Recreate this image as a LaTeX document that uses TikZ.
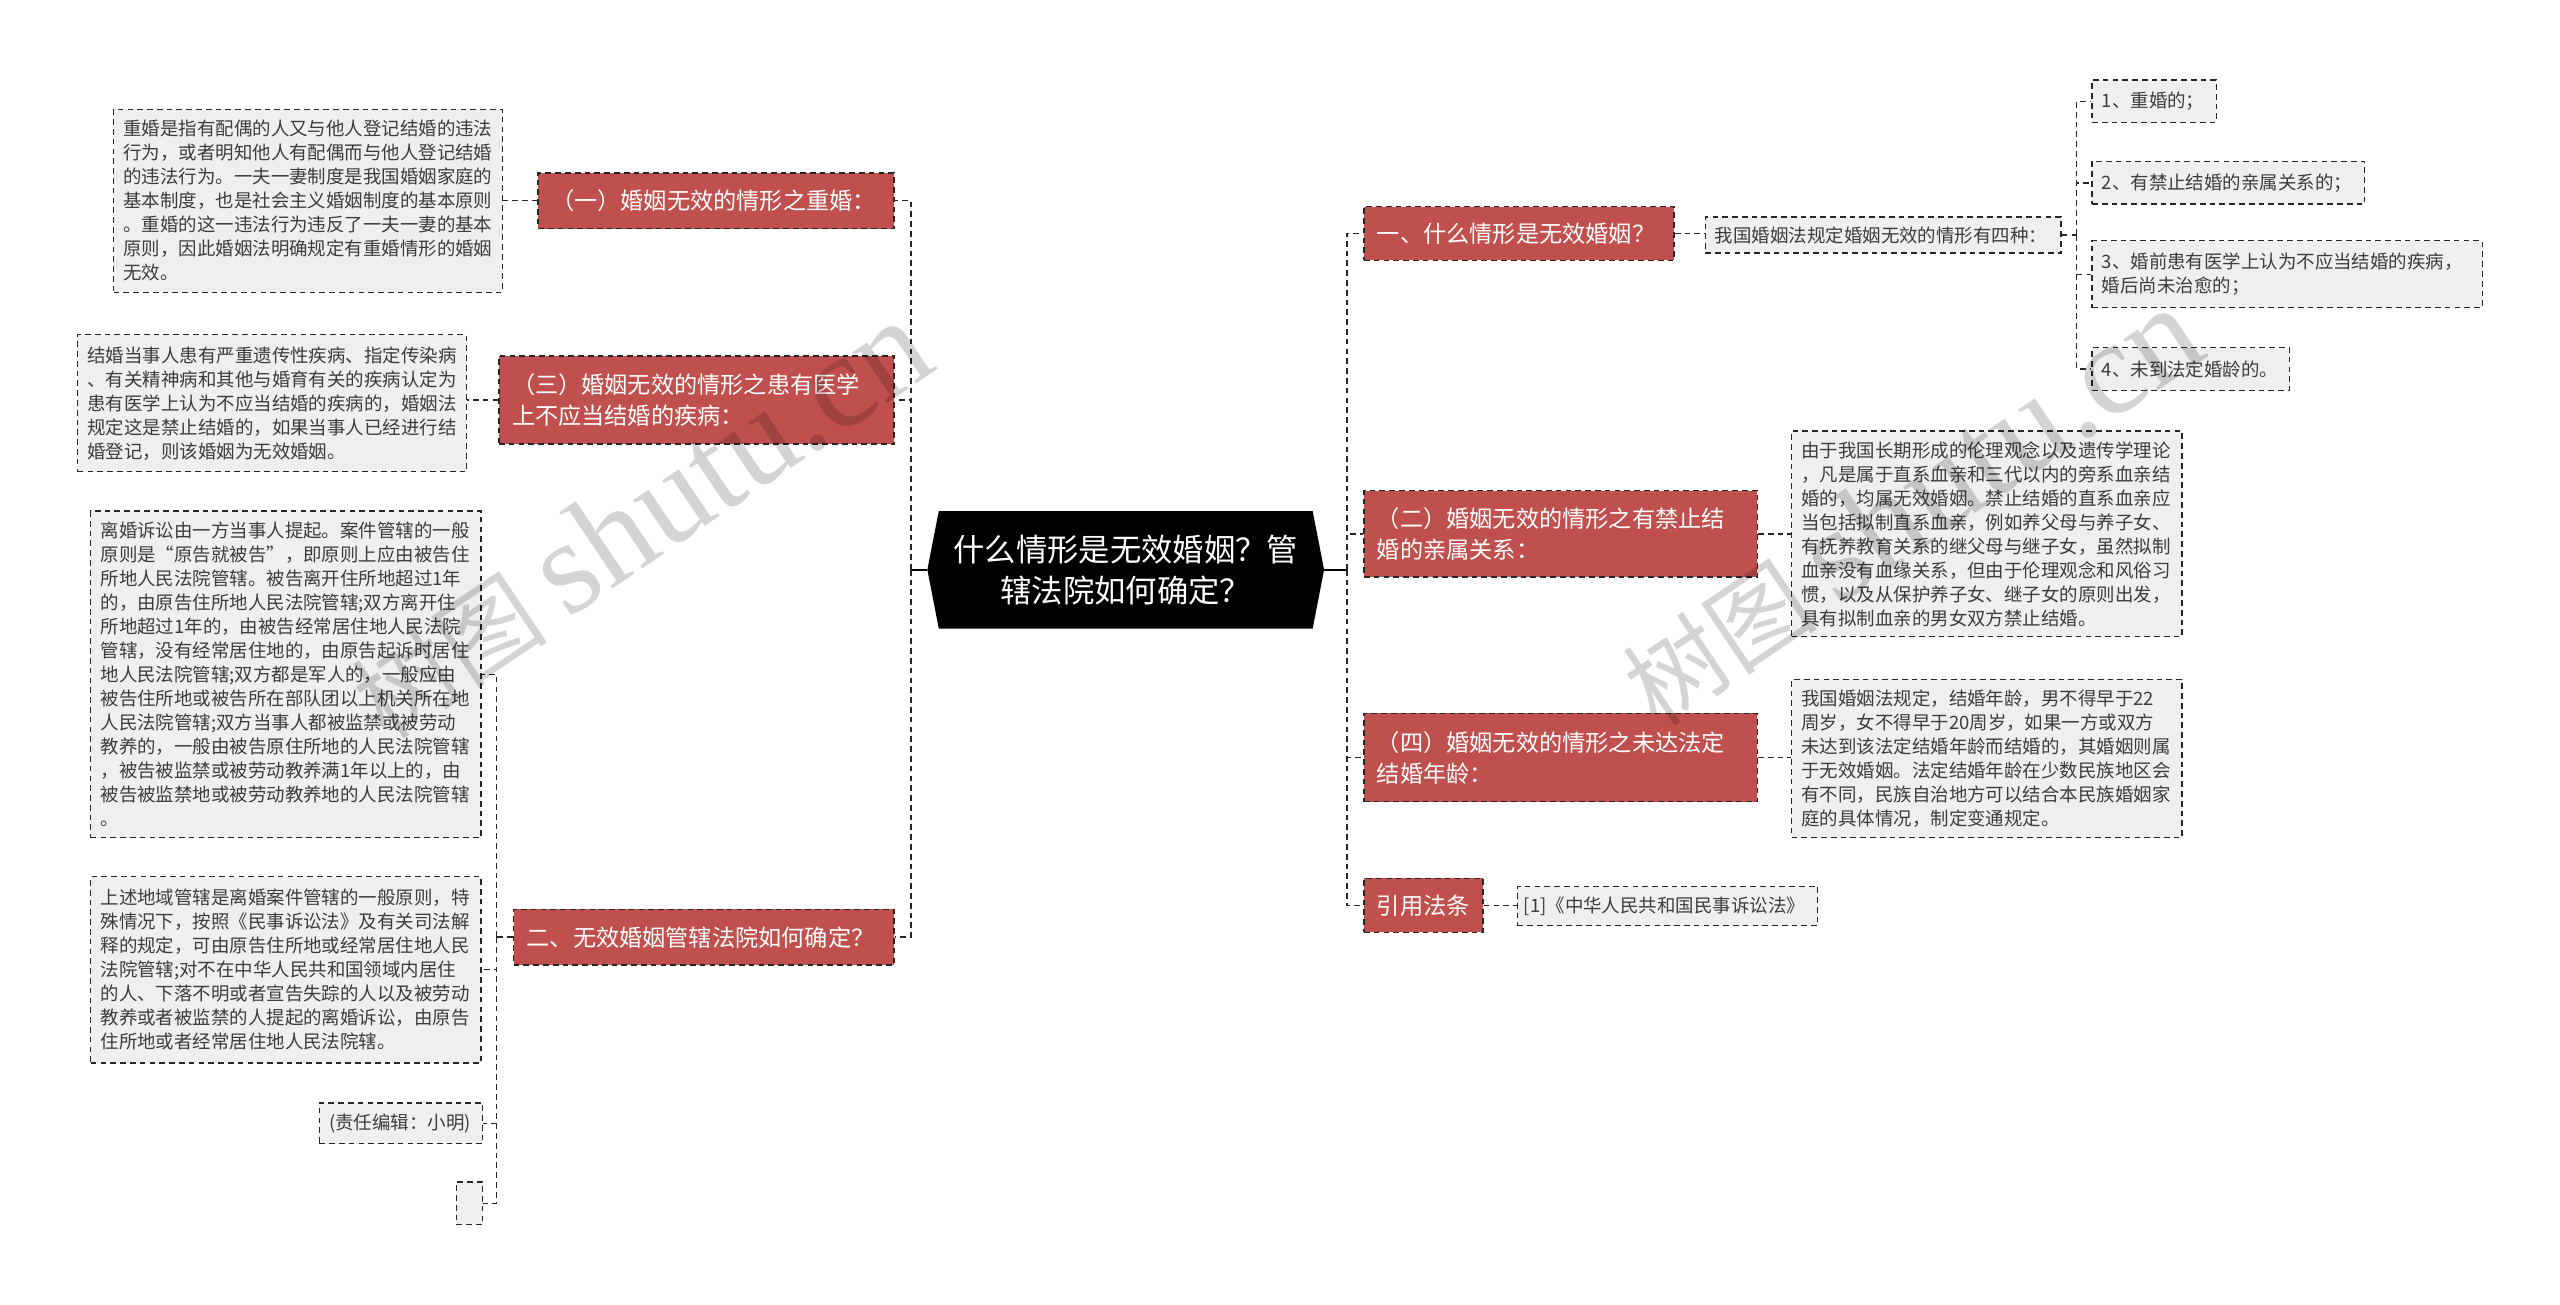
\documentclass[tikz,border=0pt]{standalone}
\usepackage{fontspec}
\setmainfont{Noto Sans CJK SC}
\newfontfamily\wmfont{Liberation Serif}
\usetikzlibrary{calc}
\definecolor{topicred}{RGB}{192,80,77}
\definecolor{leafgray}{RGB}{239,239,239}
\definecolor{leaftext}{RGB}{60,60,60}
\tikzset{
    link/.style = {
        draw = black!85,
        line width = 0.8pt,
        dash pattern = on 3.5pt off 2.5pt,
        },
    stem/.style = {
        draw = black,
        line width = 1.3pt,
        },
    root/.style = {
        fill = white,
        text = white,
        font = \fontsize{19.2}{25}\selectfont,
        align = center,
        minimum width = 243pt,
        minimum height = 72pt,
        path picture = {
            \fill[black] ([xshift=7pt]path picture bounding box.north west)
                -- (path picture bounding box.west)
                -- ([xshift=7pt]path picture bounding box.south west)
                -- ([xshift=-7pt]path picture bounding box.south east)
                -- (path picture bounding box.east)
                -- ([xshift=-7pt]path picture bounding box.north east) -- cycle;
            },
        },
    topic/.style = {
        fill = topicred,
        draw = black!85,
        line width = 0.8pt,
        dash pattern = on 3.5pt off 2.5pt,
        text = white,
        font = \fontsize{14.2}{19}\selectfont,
        align = left,
        inner xsep = 8pt,
        inner ysep = 0pt,
        },
    leaf/.style = {
        fill = leafgray,
        draw = black!85,
        line width = 0.8pt,
        dash pattern = on 3.5pt off 2.5pt,
        text = leaftext,
        font = \fontsize{11.3}{14.7}\selectfont,
        align = left,
        inner xsep = 6pt,
        inner ysep = 0pt,
        },
    watermark/.style = {
        text = black,
        opacity = 0.17,
        font = \fontsize{60}{60}\selectfont,
        rotate = 34,
        anchor = base west,
        },
}

\begin{document}
\begin{tikzpicture}[x=1pt,y=-1pt]
    \useasboundingbox (0,0) rectangle (1568,799);

    % centre
    \node[root] (root) at (689.5,349) {什么情形是无效婚姻？管\\辖法院如何确定？};
    \coordinate (lj) at (558,349);
    \coordinate (rj) at (825,349);

    % left side
    \node[topic, anchor=east, text width=202pt, minimum height=34pt] (l1) at (548,123) {（一）婚姻无效的情形之重婚：};
    \node[leaf, anchor=east, text width=226pt, minimum height=112pt] (l1d) at (308,123) {重婚是指有配偶的人又与他人登记结婚的违法\\行为，或者明知他人有配偶而与他人登记结婚\\的违法行为。一夫一妻制度是我国婚姻家庭的\\基本制度，也是社会主义婚姻制度的基本原则\\。重婚的这一违法行为违反了一夫一妻的基本\\原则，因此婚姻法明确规定有重婚情形的婚姻\\无效。};
    \node[topic, anchor=east, text width=226pt, minimum height=54pt] (l3) at (548,245) {（三）婚姻无效的情形之患有医学\\上不应当结婚的疾病：};
    \node[leaf, anchor=east, text width=226pt, minimum height=84pt] (l3d) at (286,247) {结婚当事人患有严重遗传性疾病、指定传染病\\、有关精神病和其他与婚育有关的疾病认定为\\患有医学上认为不应当结婚的疾病的，婚姻法\\规定这是禁止结婚的，如果当事人已经进行结\\婚登记，则该婚姻为无效婚姻。};
    \node[topic, anchor=east, text width=217pt, minimum height=34pt] (l5) at (548,574) {二、无效婚姻管辖法院如何确定？};
    \coordinate (l5j) at (304,574);
    \node[leaf, anchor=east, text width=227pt, minimum height=200pt] (l5a) at (295,413) {离婚诉讼由一方当事人提起。案件管辖的一般\\原则是“原告就被告”，即原则上应由被告住\\所地人民法院管辖。被告离开住所地超过1年\\的，由原告住所地人民法院管辖;双方离开住\\所地超过1年的，由被告经常居住地人民法院\\管辖，没有经常居住地的，由原告起诉时居住\\地人民法院管辖;双方都是军人的，一般应由\\被告住所地或被告所在部队团以上机关所在地\\人民法院管辖;双方当事人都被监禁或被劳动\\教养的，一般由被告原住所地的人民法院管辖\\，被告被监禁或被劳动教养满1年以上的，由\\被告被监禁地或被劳动教养地的人民法院管辖\\。};
    \node[leaf, anchor=east, text width=227pt, minimum height=114pt] (l5b) at (295,594) {上述地域管辖是离婚案件管辖的一般原则，特\\殊情况下，按照《民事诉讼法》及有关司法解\\释的规定，可由原告住所地或经常居住地人民\\法院管辖;对不在中华人民共和国领域内居住\\的人、下落不明或者宣告失踪的人以及被劳动\\教养或者被监禁的人提起的离婚诉讼，由原告\\住所地或者经常居住地人民法院辖。};
    \node[leaf, anchor=east, text width=88pt, minimum height=25pt] (l5c) at (296,688) {(责任编辑：小明)};
    \node[leaf, anchor=east, text width=4pt, minimum height=26pt] (l5e) at (296,737) {};

    % right side
    \node[topic, anchor=west, text width=174pt, minimum height=33pt] (r1) at (835,143) {一、什么情形是无效婚姻？};
    \node[leaf, anchor=west, text width=206pt, minimum height=22pt] (r1d) at (1044,144) {我国婚姻法规定婚姻无效的情形有四种：};
    \coordinate (r1j) at (1272,144);
    \node[leaf, anchor=west, text width=64pt, minimum height=26pt] (i1) at (1281,62) {1、重婚的；};
    \node[leaf, anchor=west, text width=155pt, minimum height=26pt] (i2) at (1281,112) {2、有禁止结婚的亲属关系的；};
    \node[leaf, anchor=west, text width=227pt, minimum height=41pt] (i3) at (1281,168) {3、婚前患有医学上认为不应当结婚的疾病，\\婚后尚未治愈的；};
    \node[leaf, anchor=west, text width=109pt, minimum height=26pt] (i4) at (1281,226) {4、未到法定婚龄的。};
    \node[topic, anchor=west, text width=225pt, minimum height=53pt] (r2) at (835,327) {（二）婚姻无效的情形之有禁止结\\婚的亲属关系：};
    \node[leaf, anchor=west, text width=227pt, minimum height=126pt] (r2d) at (1097,327) {由于我国长期形成的伦理观念以及遗传学理论\\，凡是属于直系血亲和三代以内的旁系血亲结\\婚的，均属无效婚姻。禁止结婚的直系血亲应\\当包括拟制直系血亲，例如养父母与养子女、\\有抚养教育关系的继父母与继子女，虽然拟制\\血亲没有血缘关系，但由于伦理观念和风俗习\\惯，以及从保护养子女、继子女的原则出发，\\具有拟制血亲的男女双方禁止结婚。};
    \node[topic, anchor=west, text width=225pt, minimum height=54pt] (r3) at (835,464) {（四）婚姻无效的情形之未达法定\\结婚年龄：};
    \node[leaf, anchor=west, text width=227pt, minimum height=97pt] (r3d) at (1097,464.5) {我国婚姻法规定，结婚年龄，男不得早于22\\周岁，女不得早于20周岁，如果一方或双方\\未达到该法定结婚年龄而结婚的，其婚姻则属\\于无效婚姻。法定结婚年龄在少数民族地区会\\有不同，民族自治地方可以结合本民族婚姻家\\庭的具体情况，制定变通规定。};
    \node[topic, anchor=west, text width=57pt, minimum height=33pt] (r4) at (835,554.5) {引用法条};
    \node[leaf, anchor=west, inner xsep=4pt, text width=176pt, minimum height=24pt] (r4d) at (929,555) {[1]《中华人民共和国民事诉讼法》};

    % connectors
    \draw[stem] (root.west) -- (lj);
    \draw[stem] (root.east) -- (rj);
    \draw[link] (lj) |- (l1.east);
    \draw[link] (lj) |- (l3.east);
    \draw[link] (lj) |- (l5.east);
    \draw[link] (l1.west) -- (l1.west -| l1d.east);
    \draw[link] (l3.west) -- (l3.west -| l3d.east);
    \draw[link] (l5.west) -- (l5j);
    \draw[link] (l5j) |- (l5a.east);
    \draw[link] (l5j) |- (l5b.east);
    \draw[link] (l5j) |- (l5c.east);
    \draw[link] (l5j) |- (l5e.east);
    \draw[link] (rj) |- (r1.west);
    \draw[link] (rj) |- (r2.west);
    \draw[link] (rj) |- (r3.west);
    \draw[link] (rj) |- (r4.west);
    \draw[link] (r1.east) -- (r1.east -| r1d.west);
    \draw[link] (r1d.east) -- (r1j);
    \draw[link] (r1j) |- (i1.west);
    \draw[link] (r1j) |- (i2.west);
    \draw[link] (r1j) |- (i3.west);
    \draw[link] (r1j) |- (i4.west);
    \draw[link] (r2.east) -- (r2.east -| r2d.west);
    \draw[link] (r3.east) -- (r3.east -| r3d.west);
    \draw[link] (r4.east) -- (r4.east -| r4d.west);

    % watermarks
    \node[watermark] (wm1) at (234,456) {树图 {\wmfont\fontsize{82}{82}\selectfont shutu.cn}};
    \node[watermark] (wm2) at (1012,448) {树图 {\wmfont\fontsize{82}{82}\selectfont shutu.cn}};
\end{tikzpicture}
\end{document}
